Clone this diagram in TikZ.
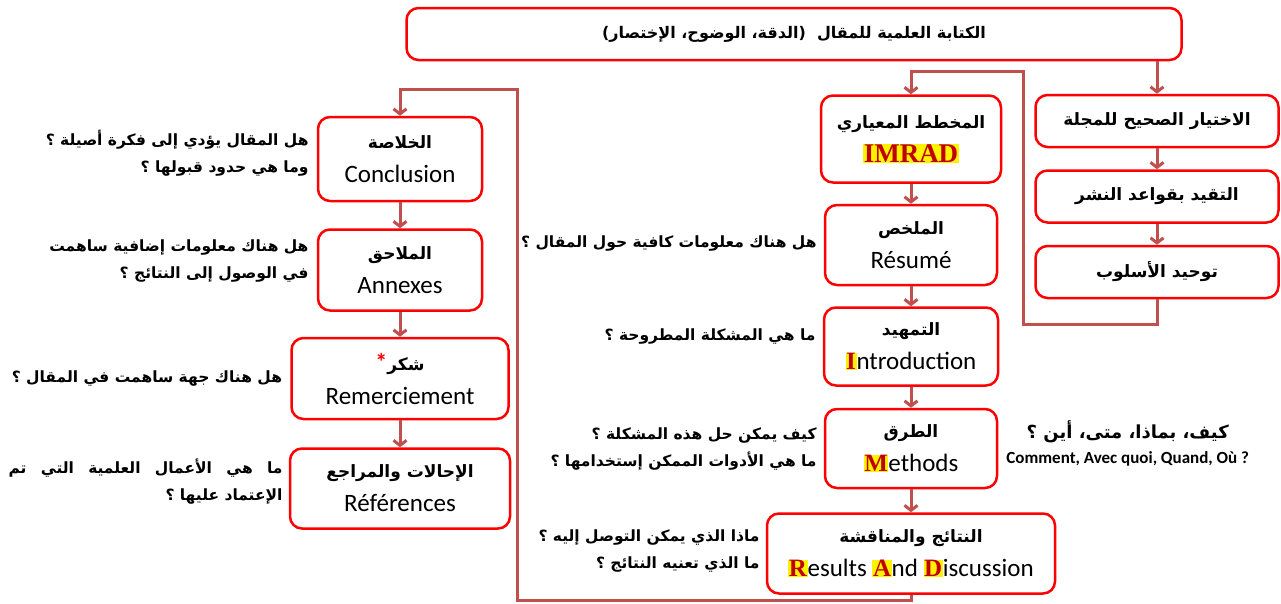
\documentclass[tikz,border=0pt]{standalone}
\usepackage{fontspec}
\setmainfont{Carlito}
\newfontfamily\arabicfont[Script=Arabic]{DejaVu Sans}
\newfontfamily\letterfont{Liberation Serif}
\TeXXeTstate=1
\usetikzlibrary{
    arrows.meta,
    positioning,
}
\definecolor{boxred}{RGB}{255,0,0}
\definecolor{linkred}{RGB}{192,80,77}
\definecolor{letterred}{RGB}{192,0,0}
\newcommand{\artxt}[1]{{\arabicfont\bfseries\beginR #1\endR}}
\newcommand{\boxar}[1]{{\fontsize{17}{20}\selectfont\artxt{#1}}}
\newcommand{\hlet}[1]{{\setlength{\fboxsep}{0.6pt}\colorbox{yellow}{\letterfont\bfseries\color{letterred}#1}}}

\begin{document}
\begin{tikzpicture}[x=1pt, y=-1pt, node distance=20pt,
    box/.style = {draw=boxred, line width=2.5pt, rounded corners=12pt, fill=white, align=center, inner sep=2pt, font=\fontsize{25}{34}\selectfont},
    rbox/.style = {box, minimum width=243pt, minimum height=52pt},
    mbox/.style = {box, minimum width=172pt, minimum height=80pt},
    ask/.style = {align=right, inner sep=0pt, font=\fontsize{15.5}{27}\selectfont},
    link/.style = {draw=linkred, line width=3pt, -{Straight Barb[length=5pt,width=13pt]}},
    ]
    \useasboundingbox (0,0) rectangle (1281,603);

    % top and right column
    \node[box, minimum width=775pt, minimum height=52pt, font=\fontsize{16}{20}\selectfont] (top) at (794,34) {\artxt{الكتابة العلمية للمقال~~(الدقة، الوضوح، الإختصار)}};
    \node[rbox] (journal) at (1157,121) {\boxar{الاختيار الصحيح للمجلة}};
    \node[rbox, below=21pt of journal] (rules) {\boxar{التقيد بقواعد النشر}};
    \node[rbox, below=21pt of rules] (style) {\boxar{توحيد الأسلوب}};

    % middle column
    \node[mbox, minimum width=180pt, minimum height=87pt] (imrad) at (911,139) {\boxar{المخطط المعياري}\\\hlet{\fontsize{27}{27}\selectfont IMRAD}};
    \node[mbox, below=20pt of imrad] (resume) {\boxar{الملخص}\\Résumé};
    \node[mbox, minimum width=174pt, minimum height=78pt, below=20pt of resume] (intro) {\boxar{التمهيد}\\\hlet{I}ntroduction};
    \node[mbox, minimum height=79pt, below=21pt of intro] (methods) {\boxar{الطرق}\\\hlet{M}ethods};
    \node[mbox, minimum width=288pt, below=23pt of methods] (results) {\boxar{النتائج والمناقشة}\\\hlet{R}esults \hlet{A}nd \hlet{D}iscussion};

    % left column
    \node[box, minimum width=164pt, minimum height=84pt] (concl) at (400,159) {\boxar{الخلاصة}\\Conclusion};
    \node[box, minimum width=164pt, minimum height=81pt, below=26pt of concl] (annex) {\boxar{الملاحق}\\Annexes};
    \node[box, minimum width=217pt, minimum height=81pt, below=25pt of annex] (thanks) {{\fontsize{24}{20}\selectfont\bfseries\color{boxred}*}\boxar{شكر}\\Remerciement};
    \node[box, minimum width=220pt, minimum height=80pt, below=27pt of thanks] (refs) {\boxar{الإحالات والمراجع}\\Références};

    % questions
    \node[ask, left=7pt of resume, yshift=2pt] (qresume) {\artxt{هل هناك معلومات كافية حول المقال ؟}};
    \node[ask, left=7pt of intro, yshift=10pt] (qintro) {\artxt{ما هي المشكلة المطروحة ؟}};
    \node[ask, left=7pt of methods] (qmethods) {\artxt{كيف يمكن حل هذه المشكلة ؟}\\\artxt{ما هي الأدوات الممكن إستخدامها ؟}};
    \node[ask, left=6pt of results, yshift=3pt] (qresults) {\artxt{ماذا الذي يمكن التوصل إليه ؟}\\\artxt{ما الذي تعنيه النتائج ؟}};
    \node[ask, right=8pt of methods, yshift=5pt, align=center, font=\fontsize{18}{27}\selectfont] (howto) {\artxt{كيف، بماذا، متى، أين ؟}\\[-2pt]{\fontsize{17}{20}\selectfont\bfseries Comment, Avec quoi, Quand, Où ?}};
    \node[ask, left=8pt of concl, yshift=6pt] (qconcl) {\artxt{هل المقال يؤدي إلى فكرة أصيلة ؟}\\\artxt{وما هي حدود قبولها ؟}};
    \node[ask, left=8pt of annex, yshift=9pt] (qannex) {\artxt{هل هناك معلومات إضافية ساهمت}\\\artxt{في الوصول إلى النتائج ؟}};
    \node[ask, left=8pt of thanks] (qthanks) {\artxt{هل هناك جهة ساهمت في المقال ؟}};
    \node[ask, left=6pt of refs, yshift=7pt] (qrefs) {\makebox[274pt][s]{\artxt{ما هي الأعمال العلمية التي تم}}\\\artxt{الإعتماد عليها ؟}};

    % connectors
    \coordinate (bend1) at (1023,324);
    \coordinate (bend2) at (1023,71);
    \coordinate (loopb) at (517,600);
    \coordinate (loopt) at (517,89);
    \draw[link] (top.south -| journal) -- (journal.north);
    \draw[link] (journal) -- (rules);
    \draw[link] (rules) -- (style);
    \draw[link] (style.south) |- (bend1) |- (bend2 -| imrad.north) -- (imrad.north);
    \draw[link] (imrad) -- (resume);
    \draw[link] (resume) -- (intro);
    \draw[link] (intro) -- (methods);
    \draw[link] (methods) -- (results);
    \draw[link] (results.south) |- (loopb) -- (loopt) -| (concl.north);
    \draw[link] (concl) -- (annex);
    \draw[link] (annex) -- (thanks);
    \draw[link] (thanks) -- (refs);
\end{tikzpicture}
\end{document}
